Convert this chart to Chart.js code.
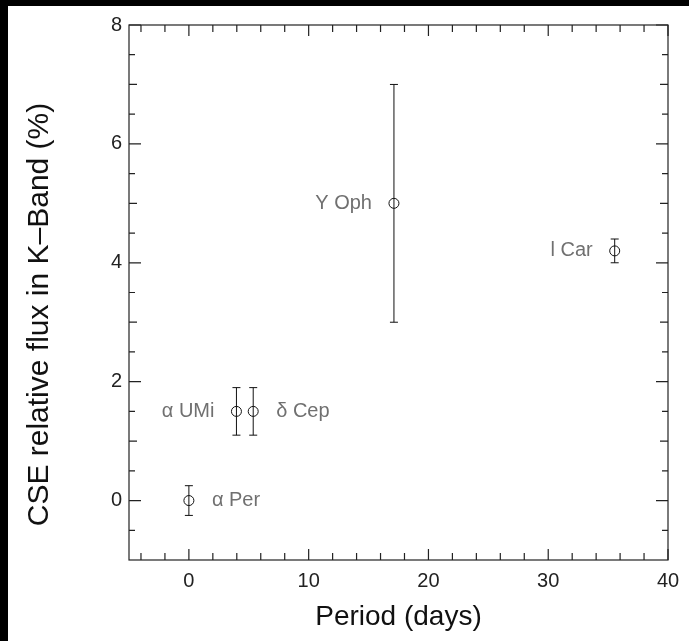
<!DOCTYPE html>
<html>
<head>
<meta charset="utf-8">
<script src="https://cdn.jsdelivr.net/npm/chart.js@4.4.0/dist/chart.umd.min.js"></script>
<style>
  html, body { margin: 0; padding: 0; background: #000; }
  body { width: 689px; height: 641px; position: relative; overflow: hidden; }
  #wrap { position: absolute; left: 8px; top: 6px; width: 681px; height: 635px; background: #fff; }
</style>
</head>
<body>
<div id="wrap"><canvas id="chart_cse"></canvas></div>
<script>
// ข้อมูลดาว (Cepheids) - period (days) vs CSE flux
const starNames = ['\u03b1 Per', '\u03b1 UMi', '\u03b4 Cep', 'Y Oph', 'l Car'];
const periodDays = [0, 3.97, 5.37, 17.12, 35.55];
const fluxPercent = [0, 1.5, 1.5, 5.0, 4.2];
const fluxError = [0.25, 0.4, 0.4, 2.0, 0.2];
const labelSide = ['right', 'left', 'right', 'left', 'left'];

const xTickLabels = [0, 10, 20, 30, 40];
const yTickLabels = [0, 2, 4, 6, 8];
const yTitleText = 'CSE relative flux in K\u2013Band (%)';

const fontFam = "'Liberation Sans', Arial, Helvetica, sans-serif";

// วาดกรอบ + tick ทั้งสี่ด้าน (ชี้เข้าด้านใน)
const frameTicks = {
  id: 'frameTicks',
  afterDatasetsDraw(chart) {
    const { ctx, chartArea: a, scales: { x, y } } = chart;
    ctx.save();
    ctx.strokeStyle = '#222';
    ctx.lineWidth = 1.2;
    ctx.strokeRect(a.left, a.top, a.right - a.left, a.bottom - a.top);
    ctx.beginPath();
    for (let v = -4; v <= 40; v += 2) {
      const px = x.getPixelForValue(v);
      const len = (v % 10 === 0) ? 11 : 7;
      ctx.moveTo(px, a.bottom); ctx.lineTo(px, a.bottom - len);
      ctx.moveTo(px, a.top); ctx.lineTo(px, a.top + len);
    }
    for (let v = -0.5; v <= 8; v += 0.5) {
      const py = y.getPixelForValue(v);
      let len = 6;
      if (v % 2 === 0) len = 12;
      else if (v % 1 === 0) len = 8;
      ctx.moveTo(a.left, py); ctx.lineTo(a.left + len, py);
      ctx.moveTo(a.right, py); ctx.lineTo(a.right - len, py);
    }
    ctx.stroke();

    // error bars
    ctx.strokeStyle = '#111';
    ctx.lineWidth = 1;
    ctx.beginPath();
    periodDays.forEach((p, i) => {
      const px = x.getPixelForValue(p);
      const yHi = y.getPixelForValue(fluxPercent[i] + fluxError[i]);
      const yLo = y.getPixelForValue(fluxPercent[i] - fluxError[i]);
      ctx.moveTo(px, yHi); ctx.lineTo(px, yLo);
      ctx.moveTo(px - 4, yHi); ctx.lineTo(px + 4, yHi);
      ctx.moveTo(px - 4, yLo); ctx.lineTo(px + 4, yLo);
    });
    ctx.stroke();

    // ชื่อดาว
    ctx.fillStyle = '#707070';
    ctx.font = '20px ' + fontFam;
    ctx.textBaseline = 'middle';
    periodDays.forEach((p, i) => {
      const px = x.getPixelForValue(p);
      const py = y.getPixelForValue(fluxPercent[i]);
      if (labelSide[i] === 'right') {
        ctx.textAlign = 'left';
        ctx.fillText(starNames[i], px + 23, py);
      } else {
        ctx.textAlign = 'right';
        ctx.fillText(starNames[i], px - 22, py);
      }
    });

    // ชื่อแกน Y (เลื่อนลงเล็กน้อยตามต้นฉบับ)
    ctx.fillStyle = '#111';
    ctx.font = '30px ' + fontFam;
    ctx.textAlign = 'center';
    ctx.translate(32, (a.top + a.bottom) / 2 + 22);
    ctx.rotate(-Math.PI / 2);
    ctx.fillText(yTitleText, 0, 0);
    ctx.restore();
  }
};

const ctxCse = document.getElementById('chart_cse').getContext('2d');

const cfgCse = {
  type: 'scatter',
  data: {
    datasets: [{
      label: 'CSE flux',
      data: periodDays.map((p, i) => ({ x: p, y: fluxPercent[i] })),
      pointStyle: 'circle',
      pointRadius: 5,
      pointHoverRadius: 5,
      borderColor: '#111',
      backgroundColor: 'rgba(0,0,0,0)',
      borderWidth: 1
    }]
  },
  options: {
    responsive: true,
    maintainAspectRatio: false,
    animation: false,
    layout: { padding: { left: 0, top: 14, right: 21, bottom: 0 } },
    plugins: {
      legend: { display: false },
      tooltip: { enabled: false }
    },
    scales: {
      x: {
        type: 'linear',
        min: -5,
        max: 40,
        afterBuildTicks: scale => { scale.ticks = xTickLabels.map(v => ({ value: v })); },
        afterFit: scale => { scale.height = 81; },
        grid: { display: false, drawTicks: false },
        border: { display: false },
        ticks: {
          color: '#222',
          padding: 9,
          maxRotation: 0,
          autoSkip: false,
          font: { family: fontFam, size: 20 }
        },
        title: {
          display: true,
          text: 'Period (days)',
          color: '#111',
          padding: { top: 0, bottom: 7 },
          font: { family: fontFam, size: 28 }
        }
      },
      y: {
        type: 'linear',
        min: -1,
        max: 8,
        afterBuildTicks: scale => { scale.ticks = yTickLabels.map(v => ({ value: v })); },
        afterFit: scale => { scale.width = 121; },
        grid: { display: false, drawTicks: false },
        border: { display: false },
        ticks: {
          color: '#222',
          padding: 7,
          font: { family: fontFam, size: 20 }
        },
        title: { display: false }
      }
    }
  },
  plugins: [frameTicks]
};

const chart_cse = new Chart(ctxCse, cfgCse);
</script>
</body>
</html>
